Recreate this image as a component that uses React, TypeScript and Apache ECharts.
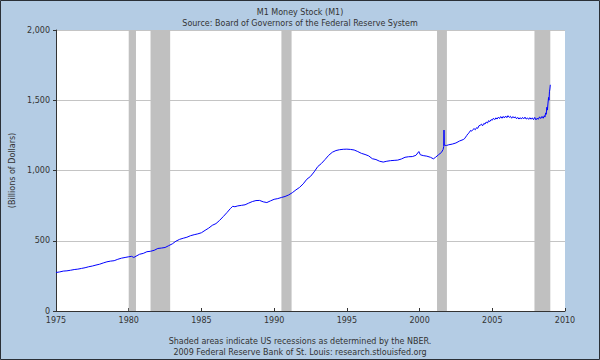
import React, { useEffect, useRef } from "react";
import * as echarts from "echarts";

const titleText = "M1 Money Stock (M1)";
const subtitleText = "Source: Board of Governors of the Federal Reserve System";
const footer1 = "Shaded areas indicate US recessions as determined by the NBER.";
const footer2 = "2009 Federal Reserve Bank of St. Louis: research.stlouisfed.org";
const yAxisName = "(Billions of Dollars)";

const dates: number[] = [
  1975.0, 1975.25, 1975.5, 1975.75, 1976.0, 1976.25, 1976.5, 1976.75,
  1977.0, 1977.25, 1977.5, 1977.75, 1978.0, 1978.25, 1978.5, 1978.75,
  1979.0, 1979.25, 1979.5, 1979.75, 1980.0, 1980.2, 1980.35, 1980.5, 1980.75,
  1981.0, 1981.25, 1981.5, 1981.75, 1982.0, 1982.25, 1982.5, 1982.75,
  1983.0, 1983.25, 1983.5, 1983.75, 1984.0, 1984.25, 1984.5, 1984.75,
  1985.0, 1985.25, 1985.5, 1985.75, 1986.0, 1986.25, 1986.5, 1986.75,
  1987.0, 1987.15, 1987.3, 1987.5, 1987.75, 1988.0, 1988.25, 1988.5, 1988.75,
  1989.0, 1989.25, 1989.5, 1989.75, 1990.0, 1990.25, 1990.5, 1990.75,
  1991.0, 1991.25, 1991.5, 1991.75, 1992.0, 1992.25, 1992.5, 1992.75,
  1993.0, 1993.25, 1993.5, 1993.75, 1994.0, 1994.25, 1994.5, 1994.75,
  1995.0, 1995.25, 1995.5, 1995.75, 1996.0, 1996.25, 1996.5, 1996.75,
  1997.0, 1997.25, 1997.5, 1997.75, 1998.0, 1998.25, 1998.5, 1998.75,
  1999.0, 1999.25, 1999.5, 1999.75, 1999.95, 2000.05, 2000.25, 2000.5, 2000.75, 2000.95,
  2001.1, 2001.3, 2001.5, 2001.62, 2001.66, 2001.68, 2001.7, 2001.85,
  2002.0, 2002.25, 2002.5, 2002.75,
  2003.0, 2003.08, 2003.17, 2003.25, 2003.33, 2003.42, 2003.5, 2003.58, 2003.67, 2003.75, 2003.83, 2003.92,
  2004.0, 2004.08, 2004.17, 2004.25, 2004.33, 2004.42, 2004.5, 2004.58, 2004.67, 2004.75, 2004.83, 2004.92,
  2005.0, 2005.08, 2005.17, 2005.25, 2005.33, 2005.42, 2005.5, 2005.58, 2005.67, 2005.75, 2005.83, 2005.92,
  2006.0, 2006.08, 2006.17, 2006.25, 2006.33, 2006.42, 2006.5, 2006.58, 2006.67, 2006.75, 2006.83, 2006.92,
  2007.0, 2007.08, 2007.17, 2007.25, 2007.33, 2007.42, 2007.5, 2007.58, 2007.67, 2007.75, 2007.83, 2007.92,
  2008.0, 2008.08, 2008.17, 2008.25, 2008.33, 2008.42, 2008.5, 2008.58, 2008.62, 2008.67, 2008.71,
  2008.75, 2008.79, 2008.83, 2008.87, 2008.9, 2008.93, 2008.96, 2008.99,
];

const m1Values: number[] = [
  274, 278, 284, 286, 290, 295, 298, 303,
  308, 315, 320, 327, 333, 342, 350, 355,
  358, 368, 376, 381, 386, 389, 381, 390, 404,
  410, 422, 425, 432, 445, 448, 452, 465,
  478, 497, 510, 518, 525, 536, 543, 549,
  557, 574, 590, 610, 622, 645, 672, 700,
  730, 745, 742, 748, 752, 756, 768, 779, 786,
  787, 777, 772, 784, 795, 800, 808, 815,
  826, 842, 862, 880, 905, 938, 958, 990,
  1028, 1050, 1078, 1108, 1130, 1142, 1148, 1151,
  1152, 1150, 1146, 1135, 1122, 1114, 1104, 1084,
  1078, 1066, 1060, 1066, 1070, 1072, 1074, 1082,
  1094, 1098, 1099, 1108, 1135, 1112, 1106, 1102, 1094, 1083,
  1094, 1112, 1128, 1150, 1170, 1288, 1180, 1178,
  1183, 1188, 1196, 1210,
  1220, 1225, 1238, 1250, 1262, 1270, 1285, 1280, 1292, 1298, 1290, 1305,
  1300, 1318, 1322, 1330, 1318, 1335, 1330, 1345, 1338, 1355, 1348, 1362,
  1358, 1372, 1362, 1375, 1366, 1380, 1370, 1384, 1372, 1385, 1374, 1388,
  1376, 1390, 1378, 1386, 1372, 1384, 1374, 1382, 1368, 1378, 1366, 1376,
  1366, 1378, 1368, 1380, 1366, 1374, 1364, 1376, 1365, 1375, 1362, 1378,
  1360, 1372, 1365, 1382, 1370, 1385, 1372, 1390, 1380, 1410, 1400,
  1450, 1430, 1480, 1520, 1500, 1560, 1580, 1610,
];

const recessionStarts: number[] = [1980.0, 1981.5, 1990.5, 2001.2, 2007.9];
const recessionEnds: number[] = [1980.5, 1982.85, 1991.2, 2001.88, 2008.99];

const xTickLabels: string[] = ["1975", "1980", "1985", "1990", "1995", "2000", "2005", "2010"];
const yTickLabels: string[] = ["0", "500", "1,000", "1,500", "2,000"];

const FONT = "DejaVu Sans";
const TEXT = "#333333";

export default function App() {
  const ref = useRef<HTMLDivElement>(null);

  useEffect(() => {
    if (!ref.current) return;
    const chart = echarts.init(ref.current, undefined, { renderer: "svg" });
    const lineData = dates.map((d, i) => [d, m1Values[i]]);
    const areas = recessionStarts.map((s, i) => [{ xAxis: s }, { xAxis: recessionEnds[i] }]);

    chart.setOption({
      animation: false,
      backgroundColor: "#b4cce4",
      textStyle: { fontFamily: FONT },
      grid: {
        left: 56,
        right: 35,
        top: 30,
        bottom: 49,
        show: true,
        backgroundColor: "#ffffff",
        borderWidth: 0,
      },
      xAxis: {
        type: "value",
        min: 1975,
        max: 2010,
        interval: 5,
        axisLine: { show: true, onZero: false, lineStyle: { color: "#333333", width: 1 } },
        axisTick: { show: true, inside: true, length: 3, lineStyle: { color: "#333333" } },
        axisLabel: {
          color: TEXT,
          fontSize: 8,
          fontFamily: FONT,
          margin: 5,
          formatter: (v: number) => xTickLabels[Math.round((v - 1975) / 5)] ?? String(v),
        },
        splitLine: { show: false },
      },
      yAxis: {
        type: "value",
        min: 0,
        max: 2000,
        interval: 500,
        name: yAxisName,
        nameLocation: "middle",
        nameRotate: 90,
        nameGap: 39,
        nameTextStyle: { color: TEXT, fontSize: 8, fontFamily: FONT },
        axisLine: { show: true, lineStyle: { color: "#333333", width: 1 } },
        axisTick: { show: true, length: 3, lineStyle: { color: "#333333" } },
        axisLabel: {
          color: TEXT,
          fontSize: 8,
          fontFamily: FONT,
          margin: 6,
          formatter: (v: number) => yTickLabels[Math.round(v / 500)] ?? String(v),
        },
        splitLine: { show: true, lineStyle: { color: "#c4c4c4", width: 1 } },
      },
      title: [
        {
          text: titleText,
          left: "center",
          top: 3,
          textStyle: { fontSize: 8, fontWeight: "normal", color: TEXT, fontFamily: FONT },
        },
        {
          text: subtitleText,
          left: "center",
          top: 14,
          textStyle: { fontSize: 8, fontWeight: "normal", color: TEXT, fontFamily: FONT },
        },
      ],
      graphic: [
        {
          type: "rect",
          shape: { x: 0.5, y: 0.5, width: 599, height: 359 },
          style: { fill: "none", stroke: "#2a2f36", lineWidth: 1 },
          silent: true,
          z: 100,
        },
        {
          type: "text",
          x: 300,
          y: 341,
          style: { text: footer1, fill: TEXT, font: `8px "${FONT}"`, textAlign: "center", textVerticalAlign: "middle" },
        },
        {
          type: "text",
          x: 300,
          y: 352,
          style: { text: footer2, fill: TEXT, font: `8px "${FONT}"`, textAlign: "center", textVerticalAlign: "middle" },
        },
      ],
      series: [
        {
          type: "line",
          data: [],
          z: 1,
          silent: true,
          markArea: {
            silent: true,
            itemStyle: { color: "#c0c0c0", opacity: 1 },
            data: areas,
          },
        },
        {
          type: "line",
          data: lineData,
          z: 3,
          symbol: "none",
          lineStyle: { color: "#0000ff", width: 1 },
          silent: true,
        },
      ],
    });

    return () => chart.dispose();
  }, []);

  return (
    <div
      ref={ref}
      style={{ position: "fixed", left: 0, top: 0, width: 600, height: 360 }}
    />
  );
}
